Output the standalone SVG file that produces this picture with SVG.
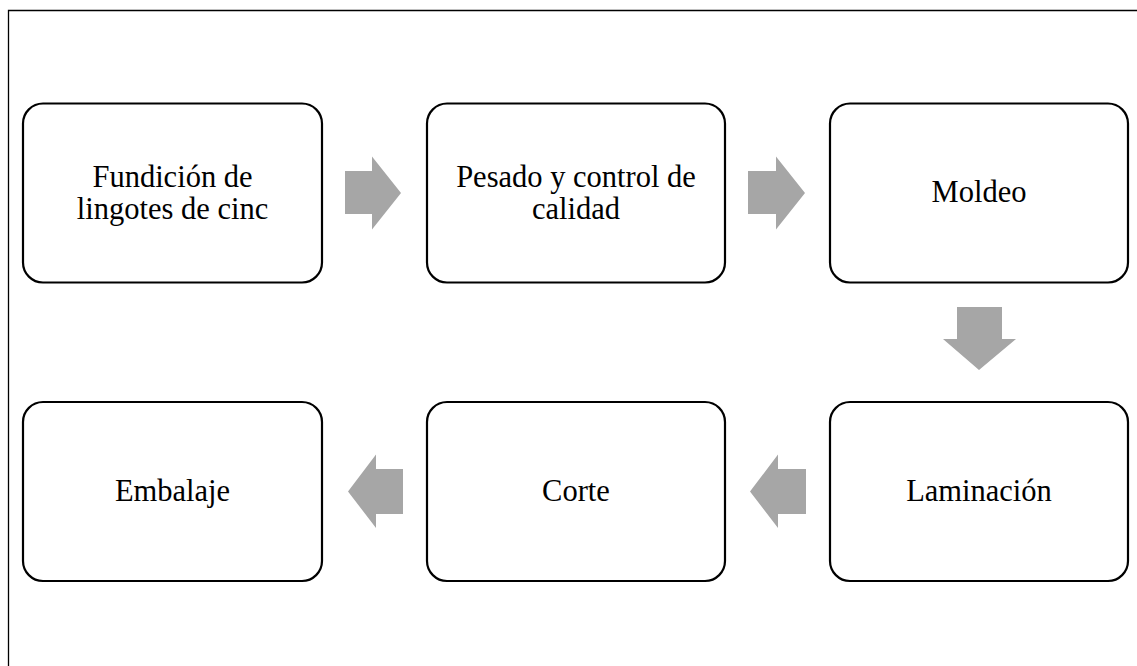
<svg xmlns="http://www.w3.org/2000/svg" width="1137" height="666" viewBox="0 0 1137 666">
<style>
.box{fill:#fff;stroke:#000;stroke-width:2.2}
.lbl{font-family:"Liberation Serif","Times New Roman",serif;font-size:30.5px;fill:#000;text-anchor:middle}
.arr{fill:#a6a6a6;stroke:none}
</style>
<rect x="0" y="0" width="1137" height="666" fill="#fff"/>
<path d="M8.5,666 V10.5 H1137" fill="none" stroke="#000" stroke-width="1.3"/>
<g id="n1"><rect class="box" x="23" y="103.5" width="299" height="179" rx="20"/>
<text class="lbl" x="172.5" y="186.5">Fundición de</text><text class="lbl" x="172.5" y="218.5">lingotes de cinc</text></g>
<g id="n2"><rect class="box" x="427" y="103.5" width="298" height="179" rx="20"/>
<text class="lbl" x="576" y="186.5">Pesado y control de</text><text class="lbl" x="576" y="218.5">calidad</text></g>
<g id="n3"><rect class="box" x="830" y="103.5" width="298" height="179" rx="20"/>
<text class="lbl" x="979" y="202">Moldeo</text></g>
<g id="n4"><rect class="box" x="830" y="402" width="298" height="179" rx="20"/>
<text class="lbl" x="979" y="501">Laminación</text></g>
<g id="n5"><rect class="box" x="427" y="402" width="298" height="179" rx="20"/>
<text class="lbl" x="576" y="501">Corte</text></g>
<g id="n6"><rect class="box" x="23" y="402" width="299" height="179" rx="20"/>
<text class="lbl" x="172.5" y="501">Embalaje</text></g>
<g id="connectors">
<polygon class="arr" points="345,171 372,171 372,156.5 401,193 372,229.5 372,214 345,214"/>
<polygon class="arr" points="748,171 776,171 776,156.5 805,193 776,229.5 776,214 748,214"/>
<polygon class="arr" points="957,307 1002,307 1002,339 1016,339 979,370 943,339 957,339"/>
<polygon class="arr" points="806,469 778,469 778,454.5 750,491.5 778,528 778,514 806,514"/>
<polygon class="arr" points="403,469 376,469 376,454.5 348,491.5 376,528 376,514 403,514"/>
</g>
</svg>
